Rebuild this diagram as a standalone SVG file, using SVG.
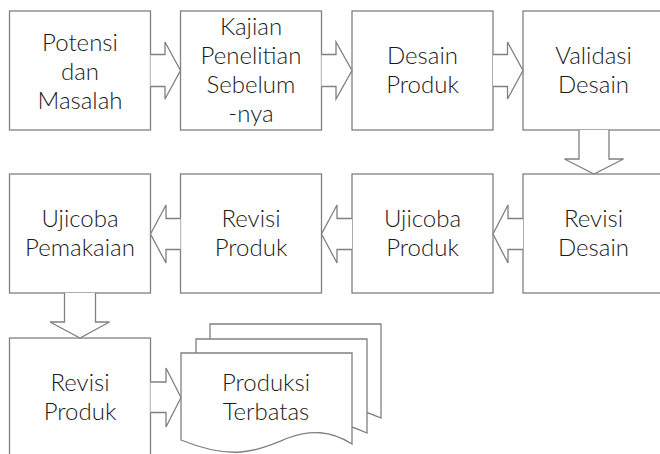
<svg xmlns="http://www.w3.org/2000/svg" width="660" height="454" viewBox="0 0 660 454">
<style>
.box{fill:#fff;stroke:#808080;stroke-width:1.3}
.arr{fill:#fff;stroke:#808080;stroke-width:1.3;stroke-linejoin:miter}
text{font-family:Lato,"Liberation Sans",sans-serif;font-size:24px;font-weight:300;fill:#1a1a1a;text-anchor:middle}
</style>
<rect width="660" height="454" fill="#fff"/>
<g id="n1"><rect class="box" x="9.5" y="11" width="141" height="119"/><text x="80" y="51">Potensi</text><text x="80" y="80">dan</text><text x="80" y="109">Masalah</text></g>
<g id="n2"><rect class="box" x="180.5" y="11" width="141" height="119"/><text x="251" y="35">Kajian</text><text x="251" y="64">Penelitian</text><text x="251" y="93">Sebelum</text><text x="251" y="122">-nya</text></g>
<g id="n3"><rect class="box" x="352" y="11" width="141" height="119"/><text x="422.5" y="64">Desain</text><text x="422.5" y="93">Produk</text></g>
<g id="n4"><rect class="box" x="523" y="11" width="141" height="119"/><text x="593.5" y="64">Validasi</text><text x="593.5" y="93">Desain</text></g>
<g id="n5"><rect class="box" x="523" y="174" width="141" height="119"/><text x="593.5" y="227">Revisi</text><text x="593.5" y="256">Desain</text></g>
<g id="n6"><rect class="box" x="352" y="174" width="141" height="119"/><text x="422.5" y="227">Ujicoba</text><text x="422.5" y="256">Produk</text></g>
<g id="n7"><rect class="box" x="180.5" y="174" width="141" height="119"/><text x="251" y="227">Revisi</text><text x="251" y="256">Produk</text></g>
<g id="n8"><rect class="box" x="9.5" y="174" width="141" height="119"/><text x="80" y="227">Ujicoba</text><text x="80" y="256">Pemakaian</text></g>
<g id="n9"><rect class="box" x="9.5" y="338" width="141" height="119"/><text x="80" y="391">Revisi</text><text x="80" y="420">Produk</text></g>
<g id="n10">
<path class="box" d="M210,324 H381 V418 C370,414 360,409 352,408 L352,420 L210,420 Z"/>
<path class="box" d="M196,339 H367 V433 C358,429 346,424 335,423 L196,430 Z"/>
<path class="box" d="M181,353 H352 V444 C330,430 310,430 288,438 C258,450 235,462 181,440 Z"/>
<text x="266" y="391">Produksi</text><text x="266" y="420">Terbatas</text>
</g>
<g id="connectors">
<path class="arr" d="M150.5,54.5 H165 V42 L180.5,70.5 L165,99 V86.5 H150.5"/>
<path class="arr" d="M321.5,54.5 H336 V42 L352,70.5 L336,99 V86.5 H321.5"/>
<path class="arr" d="M493,54.5 H507.5 V42 L523,70.5 L507.5,99 V86.5 H493"/>
<path class="arr" d="M579,130 V159 H564.5 L594,174 L623.5,159 H609 V130"/>
<path class="arr" d="M523,218.5 H508 V205 L493,234 L508,263 V249.5 H523"/>
<path class="arr" d="M352,218.5 H337 V205 L321.5,234 L337,263 V249.5 H352"/>
<path class="arr" d="M180.5,218.5 H166 V205 L150.5,234 L166,263 V249.5 H180.5"/>
<path class="arr" d="M64.5,293 V322 H50 L80,338 L109.5,322 H95.5 V293"/>
<path class="arr" d="M150.5,382 H166 V368 L181,397.5 L166,427 V412.5 H150.5"/>
</g>
</svg>
